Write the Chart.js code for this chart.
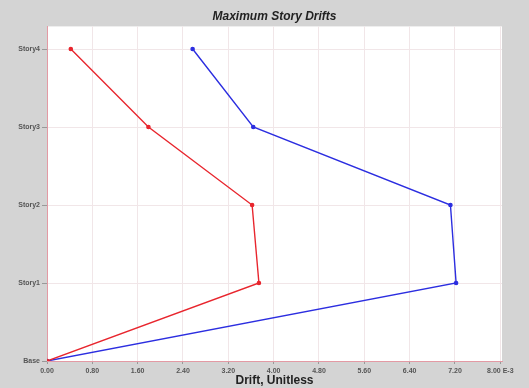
<!DOCTYPE html>
<html>
<head>
<script src="https://cdn.jsdelivr.net/npm/chart.js@4.4.1/dist/chart.umd.min.js"></script>
<style>
  body { margin: 0; background: #d4d4d4; }
  #wrap { width: 529px; height: 388px; }
</style>
</head>
<body>
<div id="wrap"><canvas id="driftCanvas"></canvas></div>

<script>
// story levels (y) and drifts (x, in E-3 units)
var storyLabels = ["Base", "Story1", "Story2", "Story3", "Story4"];
var storyLevels = [0, 1, 2, 3, 4];
var redDrift  = [0.00, 3.74, 3.62, 1.79, 0.42];
var blueDrift = [0.00, 7.22, 7.12, 3.64, 2.57];
var xTicks = [0.0, 0.8, 1.6, 2.4, 3.2, 4.0, 4.8, 5.6, 6.4, 7.2, 8.0];

function toPoints(drifts) {
	return drifts.map(function(d, i) { return { x: d, y: storyLevels[i] }; });
}

// gray page, white plot area
var backgrounds = {
	id: "backgrounds",
	beforeDraw: function(chart) {
		var ctx = chart.ctx, a = chart.chartArea;
		ctx.save();
		ctx.fillStyle = "#d4d4d4";
		ctx.fillRect(0, 0, chart.width, chart.height);
		ctx.fillStyle = "#ffffff";
		ctx.fillRect(a.left, a.top, a.right - a.left, a.bottom - a.top);
		ctx.restore();
	}
};

var smallFont = { family: "Liberation Sans", size: 7, weight: "bold" };

new Chart("driftCanvas", {
	type: "line",
	data: {
		datasets: [{
			data: toPoints(redDrift),
			borderColor: "#e8262e",
			backgroundColor: "#e8262e",
			borderWidth: 1.4,
			pointRadius: 1.6,
			tension: 0
		}, {
			data: toPoints(blueDrift),
			borderColor: "#2c2ee0",
			backgroundColor: "#2c2ee0",
			borderWidth: 1.4,
			pointRadius: 1.6,
			tension: 0
		}]
	},
	options: {
		responsive: true,
		maintainAspectRatio: false,
		animation: false,
		layout: { padding: { left: 0, right: 27, top: 0, bottom: 0 } },
		plugins: {
			legend: { display: false },
			tooltip: { enabled: false },
			title: {
				display: true,
				fullSize: false,
				text: "Maximum Story Drifts",
				color: "#222",
				font: { family: "Liberation Sans", size: 12, weight: "bold", style: "italic" },
				padding: { top: 9, bottom: 3 }
			}
		},
		scales: {
			x: {
				type: "linear",
				min: 0,
				max: 8.03,
				afterBuildTicks: function(scale) {
					scale.ticks = xTicks.map(function(v) { return { value: v }; });
				},
				afterFit: function(scale) { scale.height = 27; },
				border: { color: "#e39aa4", width: 1 },
				grid: { color: "#f1e6e8", tickLength: 3, tickColor: "#999" },
				ticks: {
					color: "#555",
					font: smallFont,
					padding: 3,
					maxRotation: 0,
					autoSkip: false,
					callback: function(v) {
						return v === 8 ? "8.00 E-3" : v.toFixed(2);
					}
				},
				title: {
					display: true,
					text: "Drift, Unitless",
					color: "#222",
					font: { family: "Liberation Sans", size: 12, weight: "bold" },
					padding: { top: 0, bottom: 0 }
				}
			},
			y: {
				type: "linear",
				min: 0,
				max: 4.29,
				afterBuildTicks: function(scale) {
					scale.ticks = storyLevels.map(function(v) { return { value: v }; });
				},
				afterFit: function(scale) { scale.width = 47; },
				border: { color: "#e39aa4", width: 1 },
				grid: { color: "#f1e6e8", tickLength: 5, tickColor: "#999" },
				ticks: {
					color: "#555",
					font: smallFont,
					padding: 2,
					autoSkip: false,
					callback: function(v) { return storyLabels[v]; }
				}
			}
		}
	},
	plugins: [backgrounds]
});
</script>
</body>
</html>
